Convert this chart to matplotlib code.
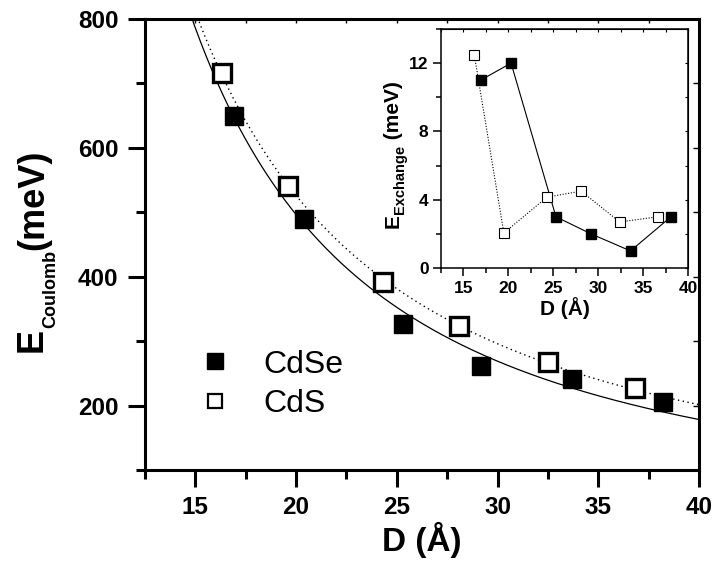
import numpy as np
import matplotlib
matplotlib.use("Agg")
import matplotlib.pyplot as plt
from matplotlib.ticker import MultipleLocator
from matplotlib.transforms import IdentityTransform

plt.rcParams['font.family'] = ['Liberation Sans', 'DejaVu Sans']

# main panel: Coulomb energy vs dot diameter
d_cdse = [16.9, 20.4, 25.3, 29.2, 33.7, 38.2]
ec_cdse = [650, 490, 327, 262, 242, 205]
d_cds = [16.3, 19.6, 24.3, 28.1, 32.5, 36.8]
ec_cds = [716, 541, 392, 324, 267, 228]

# inset: exchange energy
dx_cdse = [16.9, 20.3, 25.3, 29.2, 33.6, 38.1]
ex_cdse = [11.0, 12.0, 3.0, 2.0, 1.0, 3.0]
dx_cds = [16.2, 19.5, 24.3, 28.1, 32.4, 36.7]
ex_cds = [12.5, 2.05, 4.15, 4.5, 2.7, 3.0]

labels = ['CdSe', 'CdS']


def fit_curve(d, e):
    # least squares fit E = a/D + b/D^2
    d = np.asarray(d, float)
    A = np.column_stack([1 / d, 1 / d ** 2])
    coef, *_ = np.linalg.lstsq(A, np.asarray(e, float), rcond=None)
    dd = np.linspace(12.5, 40, 400)
    return dd, coef[0] / dd + coef[1] / dd ** 2


def stacked_label(fig, renderer, x, y, parts):
    # rotated label built piece by piece (pixel coords, y from bottom)
    for txt, size, shift in parts:
        t = fig.text(x + shift, y, txt, fontsize=size, fontweight='bold',
                     rotation=90, rotation_mode='anchor', ha='left', va='baseline',
                     transform=IdentityTransform())
        bb = t.get_window_extent(renderer)
        y += bb.height


fig = plt.figure(figsize=(7.19, 5.74), dpi=100)
H = 574

ax = fig.add_axes([145 / 719, (H - 470) / H, 554 / 719, 451 / H])
xs, ys = fit_curve(d_cdse, ec_cdse)
ax.plot(xs, ys, color='black', lw=0.9)
xs, ys = fit_curve(d_cds, ec_cds)
ax.plot(xs, ys, color='black', lw=1.0, ls=(0, (1, 2.5)))
ax.plot(d_cdse, ec_cdse, 's', color='black', ms=13.5, ls='none', zorder=3)
ax.plot(d_cds, ec_cds, 's', mfc='white', mec='black', mew=2.4, ms=12.5, ls='none', zorder=3)

ax.set_xlim(12.5, 40)
ax.set_ylim(100, 800)
ax.xaxis.set_major_locator(MultipleLocator(5))
ax.xaxis.set_minor_locator(MultipleLocator(2.5))
ax.yaxis.set_major_locator(MultipleLocator(200))
ax.yaxis.set_minor_locator(MultipleLocator(100))
for s in ax.spines.values():
    s.set_linewidth(2.2)
ax.tick_params(which='both', direction='out', width=2.2, top=False, right=False)
ax.tick_params(which='major', length=12, labelsize=17.5, pad=7)
ax.tick_params(which='minor', length=6.5)
for lab in ax.get_xticklabels() + ax.get_yticklabels():
    lab.set_fontweight('bold')
# small inward ticks on top/right
ax2 = ax.secondary_xaxis('top')
ax2.xaxis.set_major_locator(MultipleLocator(2.5))
ax2.tick_params(direction='in', length=3, width=1, labeltop=False)
ax3 = ax.secondary_yaxis('right')
ax3.yaxis.set_major_locator(MultipleLocator(100))
ax3.tick_params(direction='in', length=4, width=1, labelright=False)
ax.set_xlabel('D (Å)', fontsize=24, fontweight='bold', labelpad=2)

h1, = ax.plot([], [], 's', color='black', ms=11)
h2, = ax.plot([], [], 's', mfc='white', mec='black', mew=1.6, ms=10)
ax.legend([h1, h2], labels, loc='center left', bbox_to_anchor=(0.0975, 0.19),
          frameon=False, fontsize=23, handlelength=1.0, handletextpad=1.0,
          labelspacing=0.3, borderpad=0, borderaxespad=0)

# inset
ins = fig.add_axes([441 / 719, (H - 268) / H, 247 / 719, 239 / H])
ins.plot(dx_cdse, ex_cdse, 's-', color='black', lw=0.8, ms=6.5)
ins.plot(dx_cds, ex_cds, 's', mfc='white', mec='black', mew=0.8, ms=6.5,
         color='black', lw=0.8, ls=(0, (1, 1.5)))
ins.set_xlim(12.5, 40)
ins.set_ylim(0, 14)
ins.xaxis.set_major_locator(MultipleLocator(5))
ins.xaxis.set_minor_locator(MultipleLocator(2.5))
ins.yaxis.set_major_locator(MultipleLocator(4))
ins.yaxis.set_minor_locator(MultipleLocator(2))
for s in ins.spines.values():
    s.set_linewidth(1.1)
ins.tick_params(which='both', direction='out', width=1.1)
ins.tick_params(which='major', length=6, labelsize=12.5, pad=3)
ins.tick_params(which='minor', length=3.5)
for lab in ins.get_xticklabels() + ins.get_yticklabels():
    lab.set_fontweight('bold')
ix = ins.secondary_xaxis('top')
ix.xaxis.set_major_locator(MultipleLocator(2.5))
ix.tick_params(direction='in', length=2.5, width=0.8, labeltop=False)
iy = ins.secondary_yaxis('right')
iy.yaxis.set_major_locator(MultipleLocator(2))
iy.tick_params(direction='in', length=2.5, width=0.8, labelright=False)
ins.set_xlabel('D (Å)', fontsize=15, fontweight='bold', labelpad=1)

renderer = fig.canvas.get_renderer()
stacked_label(fig, renderer, 42, H - 352,
              [('E', 26, 0), ('Coulomb', 13, 13), ('(meV)', 26, 1)])
stacked_label(fig, renderer, 399, H - 228,
              [('E', 15, 0), ('Exchange', 10.5, 5), (' (meV)', 15, 0)])

fig.savefig('out.png', dpi=100)
